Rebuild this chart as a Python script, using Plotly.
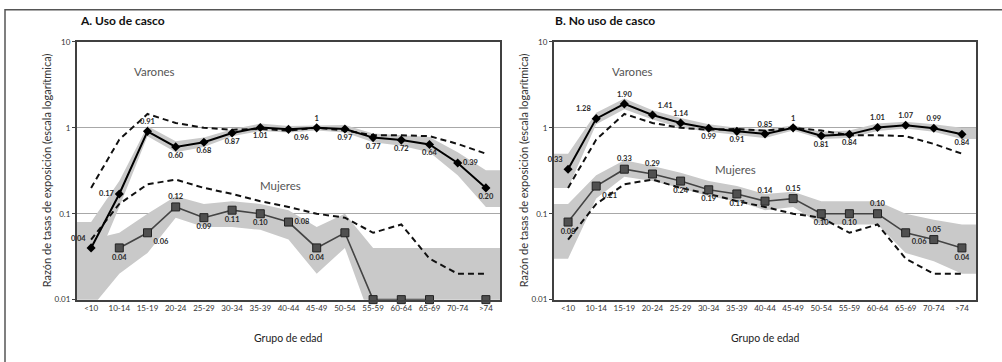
import math
import plotly.graph_objects as go

categories = ["<10", "10-14", "15-19", "20-24", "25-29", "30-34", "35-39", "40-44",
              "45-49", "50-54", "55-59", "60-64", "65-69", "70-74", ">74"]

# Panel A: Uso de casco
a_var = [0.04, 0.17, 0.91, 0.60, 0.68, 0.87, 1.01, 0.96, 1.0, 0.97, 0.77, 0.72, 0.64, 0.39, 0.20]
a_var_lo = [0.02, 0.12, 0.80, 0.52, 0.60, 0.80, 0.92, 0.88, 0.93, 0.88, 0.68, 0.62, 0.52, 0.28, 0.12]
a_var_hi = [0.08, 0.24, 1.05, 0.70, 0.77, 0.96, 1.12, 1.05, 1.07, 1.08, 0.86, 0.82, 0.78, 0.52, 0.32]
a_var_lbl = ["0.04", "0.17", "0.91", "0.60", "0.68", "0.87", "1.01", "0.96", "1", "0.97",
             "0.77", "0.72", "0.64", "0.39", "0.20"]
a_var_pos = ["top left", "middle left", "top center", "bottom center", "bottom center",
             "bottom center", "bottom center", "bottom right", "top center", "bottom center",
             "bottom center", "bottom center", "bottom center", "middle right", "bottom center"]

a_muj = [None, 0.04, 0.06, 0.12, 0.09, 0.11, 0.10, 0.08, 0.04, 0.06, 0.01, 0.01, 0.01, None, 0.01]
a_muj_lo = [0.008, 0.02, 0.035, 0.09, 0.07, 0.07, 0.065, 0.05, 0.02, 0.04, 0.005, 0.005, 0.005, 0.005, 0.005]
a_muj_hi = [0.05, 0.06, 0.10, 0.16, 0.13, 0.14, 0.13, 0.11, 0.07, 0.10, 0.04, 0.04, 0.04, 0.04, 0.04]
a_muj_lbl = ["", "0.04", "0.06", "0.12", "0.09", "0.11", "0.10", "0.08", "0.04", "0.06",
             "", "", "", "", ""]
a_muj_pos = ["top center", "bottom center", "bottom right", "top center", "bottom center",
             "bottom center", "bottom center", "middle right", "bottom center", "top center",
             "top center", "top center", "top center", "top center", "top center"]

# Panel B: No uso de casco
b_var = [0.33, 1.28, 1.90, 1.41, 1.14, 0.99, 0.91, 0.85, 1.0, 0.81, 0.84, 1.01, 1.07, 0.99, 0.84]
b_var_lo = [0.20, 1.10, 1.65, 1.25, 1.00, 0.90, 0.82, 0.76, 0.93, 0.74, 0.76, 0.92, 0.98, 0.90, 0.74]
b_var_hi = [0.50, 1.50, 2.20, 1.60, 1.30, 1.10, 1.00, 0.95, 1.07, 0.90, 0.93, 1.12, 1.18, 1.10, 1.00]
b_var_lbl = ["0.33", "1.28", "1.90", "1.41", "1.14", "0.99", "0.91", "0.85", "1", "0.81",
             "0.84", "1.01", "1.07", "0.99", "0.84"]
b_var_pos = ["top left", "top left", "top center", "top right", "top center",
             "bottom center", "bottom center", "top center", "top center", "bottom center",
             "bottom center", "top center", "top center", "top center", "bottom center"]

b_muj = [0.08, 0.21, 0.33, 0.29, 0.24, 0.19, 0.17, 0.14, 0.15, 0.10, 0.10, 0.10, 0.06, 0.05, 0.04]
b_muj_lo = [0.03, 0.15, 0.27, 0.24, 0.20, 0.16, 0.14, 0.11, 0.12, 0.075, 0.075, 0.075, 0.035, 0.028, 0.02]
b_muj_hi = [0.13, 0.28, 0.42, 0.36, 0.30, 0.24, 0.21, 0.17, 0.18, 0.14, 0.14, 0.14, 0.10, 0.085, 0.075]
b_muj_lbl = ["0.08", "0.21", "0.33", "0.29", "0.24", "0.19", "0.17", "0.14", "0.15", "0.10",
             "0.10", "0.10", "0.06", "0.05", "0.04"]
b_muj_pos = ["bottom center", "bottom right", "top center", "top center", "bottom center",
             "bottom center", "bottom center", "top center", "top center", "bottom center",
             "bottom center", "top center", "bottom right", "top center", "bottom center"]

# Reference (dashed) curves, identical in both panels
ref_var = [0.20, 0.73, 1.45, 1.14, 1.00, 0.95, 0.97, 0.93, 1.00, 0.93, 0.82, 0.82, 0.80, 0.65, 0.50]
ref_muj = [0.05, 0.13, 0.22, 0.25, 0.20, 0.17, 0.14, 0.12, 0.10, 0.09, 0.06, 0.075, 0.03, 0.02, 0.02]

y_ticks = [0.01, 0.1, 1, 10]
y_ticktext = ["0.01", "0.1", "1", "10"]

panel_titles = ["A. Uso de casco", "B. No uso de casco"]
y_title = "Razón de tasas de exposición (escala logarítmica)"
x_title = "Grupo de edad"

idx = list(range(len(categories)))
n = len(categories)
band_x = [-0.5] + idx + [n - 0.5]

FONT = "Lato"
BAND = "#c9c9c9"
LBL = dict(family=FONT, size=7.5, color="#2a2a2a", weight="bold")

fig = go.Figure()

panels = [
    dict(var=a_var, vlo=a_var_lo, vhi=a_var_hi, vl=a_var_lbl, vp=a_var_pos,
         muj=a_muj, mlo=a_muj_lo, mhi=a_muj_hi, ml=a_muj_lbl, mp=a_muj_pos,
         xa="x", ya="y", varxy=(2.26, 4.5), mujxy=(6.7, 0.216)),
    dict(var=b_var, vlo=b_var_lo, vhi=b_var_hi, vl=b_var_lbl, vp=b_var_pos,
         muj=b_muj, mlo=b_muj_lo, mhi=b_muj_hi, ml=b_muj_lbl, mp=b_muj_pos,
         xa="x2", ya="y2", varxy=(2.28, 4.5), mujxy=(5.94, 0.33)),
]


def ext(v):
    return [v[0]] + list(v) + [v[-1]]


for p in panels:
    xa, ya = p["xa"], p["ya"]
    for lo, hi in ((p["vlo"], p["vhi"]), (p["mlo"], p["mhi"])):
        fig.add_trace(go.Scatter(x=band_x, y=ext(lo), xaxis=xa, yaxis=ya, mode="lines",
                                 line=dict(width=0, color=BAND), showlegend=False,
                                 hoverinfo="skip"))
        fig.add_trace(go.Scatter(x=band_x, y=ext(hi), xaxis=xa, yaxis=ya, mode="lines",
                                 line=dict(width=0, color=BAND), fill="tonexty",
                                 fillcolor=BAND, showlegend=False, hoverinfo="skip"))
    for ref in (ref_var, ref_muj):
        fig.add_trace(go.Scatter(x=idx, y=ref, xaxis=xa, yaxis=ya, mode="lines",
                                 line=dict(color="#111111", width=2, dash="6px,4px"),
                                 showlegend=False))
    fig.add_trace(go.Scatter(x=idx, y=p["muj"], xaxis=xa, yaxis=ya, mode="lines+markers+text",
                             line=dict(color="#444444", width=1.6),
                             marker=dict(symbol="square", size=8, color="#505050",
                                         line=dict(color="#222222", width=1)),
                             text=p["ml"], textposition=p["mp"], textfont=LBL,
                             cliponaxis=False, showlegend=False))
    fig.add_trace(go.Scatter(x=idx, y=p["var"], xaxis=xa, yaxis=ya, mode="lines+markers+text",
                             line=dict(color="#000000", width=2),
                             marker=dict(symbol="diamond", size=7, color="#000000"),
                             text=p["vl"], textposition=p["vp"], textfont=LBL,
                             cliponaxis=False, showlegend=False))
    # annotations on log axes take log10 positions
    fig.add_annotation(x=p["varxy"][0], y=math.log10(p["varxy"][1]), xref=xa, yref=ya,
                       text="Varones", showarrow=False,
                       font=dict(family=FONT, size=11.5, color="#555555"))
    fig.add_annotation(x=p["mujxy"][0], y=math.log10(p["mujxy"][1]), xref=xa, yref=ya,
                       text="Mujeres", showarrow=False,
                       font=dict(family=FONT, size=11.5, color="#555555"))

W, H = 1002, 362
px = lambda v: v / W
py = lambda v: 1 - v / H

xdoms = [[px(77), px(500)], [px(554), px(976)]]
ydom = [py(303), py(38)]

axis_common_x = dict(range=[-0.5, n - 0.5], tickmode="array", tickvals=idx, ticktext=categories,
                     showgrid=False, zeroline=False, showline=True, linecolor="#404040",
                     linewidth=2, mirror=True, ticks="", ticklen=0,
                     tickfont=dict(family=FONT, size=8, color="#333333"))
axis_common_y = dict(type="log", range=[-2, 1], tickmode="array", tickvals=y_ticks,
                     ticktext=y_ticktext, showgrid=True, gridcolor="#a8a8a8", gridwidth=1.2,
                     zeroline=False, showline=True, linecolor="#404040", linewidth=2,
                     mirror=True, ticks="outside", ticklen=3, tickcolor="#404040",
                     tickfont=dict(family=FONT, size=8, color="#333333"))

fig.update_layout(
    width=W, height=H, margin=dict(l=0, r=0, t=0, b=0),
    paper_bgcolor="white", plot_bgcolor="white",
    xaxis=dict(domain=xdoms[0], anchor="y", **axis_common_x),
    yaxis=dict(domain=ydom, anchor="x", **axis_common_y),
    xaxis2=dict(domain=xdoms[1], anchor="y2", **axis_common_x),
    yaxis2=dict(domain=ydom, anchor="x2", **axis_common_y),
)

# panel titles, axis titles
for i, t in enumerate(panel_titles):
    x0 = [78, 553][i]
    fig.add_annotation(x=px(x0), y=py(16), xref="paper", yref="paper", text="<b>" + t + "</b>",
                       showarrow=False, xanchor="left", yanchor="middle",
                       font=dict(family=FONT, size=12, color="#111111"))
    fig.add_annotation(x=px([46, 523][i]), y=py(170), xref="paper", yref="paper", text=y_title,
                       showarrow=False, textangle=-90, xanchor="center", yanchor="middle",
                       font=dict(family=FONT, size=11, color="#333333"))
    fig.add_annotation(x=(xdoms[i][0] + xdoms[i][1]) / 2, y=py(342), xref="paper", yref="paper",
                       text=x_title, showarrow=False, xanchor="center", yanchor="middle",
                       font=dict(family=FONT, size=10.5, color="#222222"))

# outer frame
fig.add_shape(type="rect", xref="paper", yref="paper", x0=px(5), y0=py(370), x1=px(1010), y1=py(5),
              line=dict(color="#555555", width=1.5))

fig.write_html("out.html")
